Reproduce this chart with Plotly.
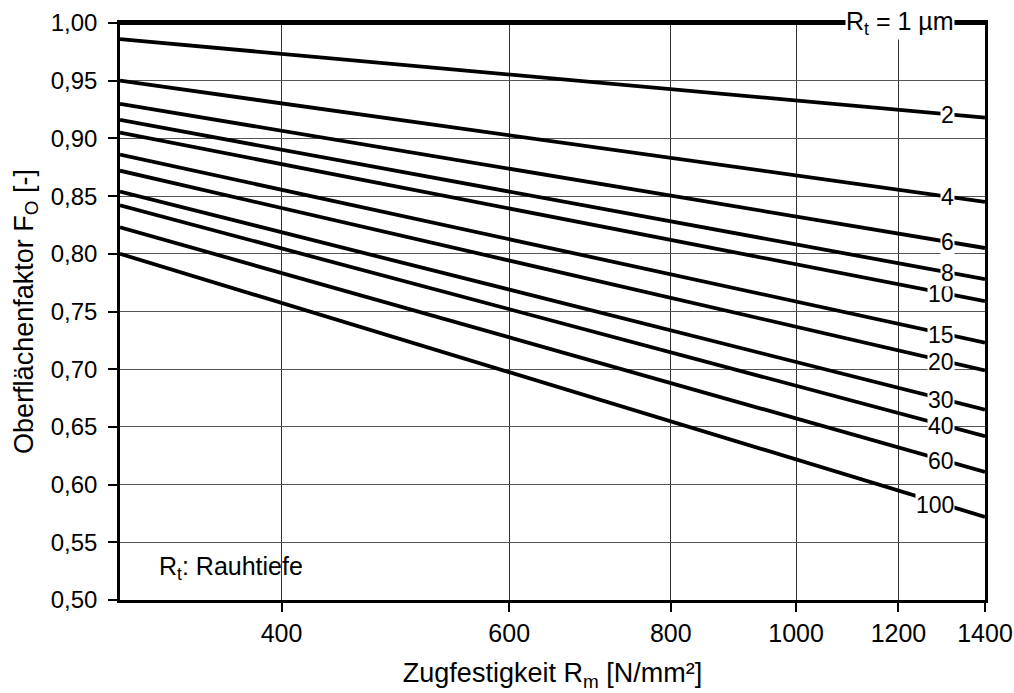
import math
import plotly.graph_objects as go

# Data
rt_values = [1, 2, 4, 6, 8, 10, 15, 20, 30, 40, 60, 100]          # Rauhtiefe R_t in µm
rm_range = [300, 1400]                                              # Zugfestigkeit R_m [N/mm²]
fo_at_300 = [1.000, 0.986, 0.950, 0.930, 0.916, 0.905, 0.886, 0.872, 0.854, 0.842, 0.823, 0.800]
fo_at_1400 = [1.000, 0.918, 0.845, 0.805, 0.778, 0.759, 0.723, 0.699, 0.665, 0.642, 0.611, 0.572]
label_texts = ["R<sub>t</sub> = 1 µm", "2", "4", "6", "8", "10", "15", "20", "30", "40", "60", "100"]
x_tickvals = [400, 600, 800, 1000, 1200, 1400]
x_ticktext = ["400", "600", "800", "1000", "1200", "1400"]

FONT = "Liberation Sans, Arial, Helvetica, sans-serif"
label_anchor_rm = 1328   # right edge of curve labels
label_center_rm = 1290   # where the label sits on its curve

fig = go.Figure()
for rt, f0, f1 in zip(rt_values, fo_at_300, fo_at_1400):
    fig.add_trace(go.Scatter(
        x=rm_range, y=[f0, f1], mode="lines",
        line=dict(color="black", width=3.8),
        name=f"R_t = {rt} µm", showlegend=False, hoverinfo="skip"))

lx0, lx1 = math.log10(rm_range[0]), math.log10(rm_range[1])
annotations = []
for i, (txt, f0, f1) in enumerate(zip(label_texts, fo_at_300, fo_at_1400)):
    t = (math.log10(label_center_rm) - lx0) / (lx1 - lx0)
    yv = f0 + (f1 - f0) * t
    annotations.append(dict(
        x=math.log10(label_anchor_rm), y=yv, xref="x", yref="y",
        xanchor="right", yanchor="middle", text=txt, showarrow=False,
        bgcolor="white", borderpad=0, yshift=-2 if i > 0 else 0,
        font=dict(family=FONT, size=23 if i > 0 else 25, color="black")))
annotations = annotations[::-1]   # small R_t labels drawn last (on top)

annotations.append(dict(
    x=0.043, y=0.055, xref="paper", yref="paper", xanchor="left", yanchor="middle",
    text="R<sub>t</sub>: Rauhtiefe", showarrow=False,
    font=dict(family=FONT, size=25, color="black")))

fig.update_layout(
    width=1014, height=693,
    margin=dict(l=120, r=29, t=23, b=93, autoexpand=False),
    paper_bgcolor="white", plot_bgcolor="white",
    separators=", ",
    showlegend=False,
    annotations=annotations,
    xaxis=dict(
        type="log", range=[lx0, lx1], automargin=False,
        tickvals=x_tickvals, ticktext=x_ticktext,
        ticks="outside", ticklen=9, tickwidth=2, tickcolor="black",
        showline=True, linewidth=2.5, linecolor="black", mirror=True,
        showgrid=True, gridcolor="#333", gridwidth=1, zeroline=False,
        tickfont=dict(family=FONT, size=25, color="black"),
        title=dict(text="Zugfestigkeit R<sub>m</sub> [N/mm²]",
                   font=dict(family=FONT, size=27, color="black"), standoff=18),
    ),
    yaxis=dict(
        range=[0.5, 1.0], tick0=0.5, dtick=0.05, tickformat=".2f", automargin=False,
        ticks="outside", ticklen=9, tickwidth=2, tickcolor="black",
        showline=True, linewidth=2.5, linecolor="black", mirror=True,
        showgrid=True, gridcolor="#555", gridwidth=1, zeroline=False,
        tickfont=dict(family=FONT, size=24, color="black"),
        ticklabelstandoff=6,
        title=dict(text="Oberflächenfaktor F<sub>O</sub> [-]",
                   font=dict(family=FONT, size=27, color="black"), standoff=10),
    ),
    xaxis2=dict(
        type="log", range=[lx0, lx1], overlaying="x", side="top", anchor="y",
        automargin=False,
        tickvals=x_tickvals, ticks="inside", ticklen=10, tickwidth=2, tickcolor="black",
        showticklabels=False, showgrid=False, showline=False, zeroline=False,
    ),
    yaxis2=dict(
        range=[0.5, 1.0], tick0=0.5, dtick=0.05, overlaying="y", side="right", anchor="x",
        automargin=False,
        ticks="inside", ticklen=11, tickwidth=2, tickcolor="black",
        showticklabels=False, showgrid=False, showline=False, zeroline=False,
    ),
)

fig.write_html("out.html")
